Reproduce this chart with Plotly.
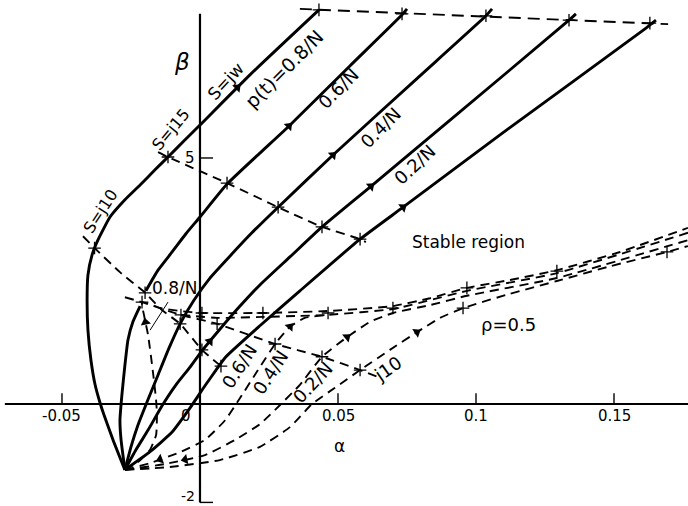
import math
import plotly.graph_objects as go

W, H = 688, 506
A_MIN, A_MAX = -0.07246, 0.17681
B_MIN, B_MAX = -2.073, 8.211

# ---------- rho = 1 loci (solid), p(t) = 0.8/N ... 0.2/N ----------
s1_alpha = [-0.0272, -0.0315, -0.0348, -0.0362, -0.0380, -0.0395, -0.0406, -0.0409, -0.0406,
            -0.0391, -0.0370, -0.0326, -0.0272, -0.0217, -0.0163, -0.0116, -0.0054, 0.0, 0.0181, 0.0431]
s1_beta = [-1.34, -0.73, -0.22, 0.02, 0.39, 0.89, 1.50, 2.11, 2.62,
           3.03, 3.33, 3.80, 4.15, 4.45, 4.76, 5.02, 5.37, 5.67, 6.69, 8.01]

s2_low_alpha = [-0.0272, -0.0286, -0.0290, -0.0283, -0.0272, -0.0261, -0.0243, -0.0217]
s2_low_beta = [-1.34, -0.73, -0.33, 0.18, 0.79, 1.30, 1.67, 1.99]
s2_up_alpha = [-0.0196, -0.0152, -0.0101, -0.0051, 0.0, 0.0098, 0.0217, 0.0319, 0.0543, 0.0732, 0.0750]
s2_up_beta = [2.30, 2.72, 3.09, 3.46, 3.80, 4.47, 5.10, 5.63, 6.87, 7.91, 8.03]

s3_alpha = [-0.0272, -0.0250, -0.0225, -0.0192, -0.0152, -0.0112, -0.0072, -0.0022, 0.0036,
            0.0109, 0.0188, 0.0283, 0.0482, 0.0797, 0.1036, 0.1058]
s3_beta = [-1.34, -0.87, -0.43, 0.04, 0.59, 1.14, 1.63, 2.11, 2.56,
           3.01, 3.48, 4.00, 5.06, 6.67, 7.89, 8.03]

s4_alpha = [-0.0272, -0.0232, -0.0188, -0.0138, -0.0087, -0.0036, 0.0007, 0.0072, 0.0145,
            0.0217, 0.0326, 0.0442, 0.0616, 0.0906, 0.1337, 0.1362]
s4_beta = [-1.34, -0.93, -0.53, -0.04, 0.39, 0.75, 1.08, 1.52, 1.99,
           2.42, 2.99, 3.60, 4.41, 5.77, 7.80, 7.93]

s5_alpha = [-0.0272, -0.0181, -0.0101, -0.0036, 0.0018, 0.0058, 0.0094, 0.0217, 0.0362,
            0.0580, 0.0736, 0.1087, 0.1616, 0.1652]
s5_beta = [-1.34, -0.97, -0.57, -0.08, 0.37, 0.69, 0.96, 1.59, 2.30,
           3.35, 4.00, 5.47, 7.64, 7.80]

# ---------- rho = 0.5 loci (dashed) ----------
da_alpha = [-0.0272, -0.0225, -0.0181, -0.0159, -0.0156, -0.0159, -0.0170, -0.0188, -0.0203, -0.0210,
            -0.0145, -0.0072, 0.0007, 0.0228, 0.0464, 0.0699, 0.0833, 0.0967, 0.1123, 0.1293, 0.1522, 0.1768]
da_beta = [-1.34, -1.18, -0.93, -0.63, -0.22, 0.08, 0.63, 1.40, 1.81, 2.07,
           1.95, 1.89, 1.85, 1.85, 1.89, 1.99, 2.15, 2.36, 2.52, 2.72, 3.09, 3.58]

db_alpha = [-0.0069, 0.0062, 0.0228, 0.0362, 0.0464]
db_beta = [1.81, 1.75, 1.77, 1.79, 1.81]

d2_alpha = [-0.0272, -0.0181, -0.0072, 0.0018, 0.0091, 0.0145, 0.0210, 0.0272, 0.0326, 0.0380,
            0.0464, 0.0699, 0.0967, 0.1293, 0.1768]
d2_beta = [-1.34, -1.20, -0.98, -0.73, -0.33, 0.12, 0.69, 1.22, 1.57, 1.75,
           1.81, 1.93, 2.30, 2.66, 3.48]

d3_alpha = [-0.0272, -0.0127, 0.0018, 0.0127, 0.0217, 0.0290, 0.0362, 0.0442, 0.0533, 0.0616,
            0.0699, 0.0833, 0.0967, 0.1293, 0.1768]
d3_beta = [-1.34, -1.22, -1.04, -0.73, -0.41, -0.02, 0.39, 0.96, 1.36, 1.67,
           1.85, 2.01, 2.20, 2.56, 3.33]

d4_alpha = [-0.0272, -0.0109, 0.0072, 0.0217, 0.0326, 0.0406, 0.0489, 0.0580, 0.0688, 0.0786,
            0.0870, 0.0953, 0.1123, 0.1293, 0.1486, 0.1692, 0.1768]
d4_beta = [-1.34, -1.28, -1.14, -0.87, -0.47, 0.00, 0.33, 0.69, 1.10, 1.46,
           1.75, 1.95, 2.24, 2.50, 2.80, 3.09, 3.21]

# ---------- constant-frequency lines ----------
top_alpha = [0.0362, 0.1696]
top_beta = [8.03, 7.72]

j15_alpha = [-0.0152, -0.0116, 0.0098, 0.0283, 0.0442, 0.0580, 0.0601]
j15_beta = [5.12, 5.02, 4.49, 4.00, 3.60, 3.35, 3.29]

j10_alpha = [-0.0424, -0.0382, -0.0290, -0.0199, -0.0138, -0.0072, 0.0007, 0.0076]
j10_beta = [3.41, 3.17, 2.68, 2.26, 1.91, 1.63, 1.10, 0.77]

j10b_alpha = [-0.0272, -0.0210, -0.0069, 0.0062, 0.0272, 0.0442, 0.0580, 0.0645]
j10b_beta = [2.17, 2.07, 1.81, 1.63, 1.22, 0.96, 0.69, 0.55]

# ---------- marked frequency points (+) ----------
plus_alpha = [-0.0382, -0.0116, 0.0431, -0.0199, 0.0098, 0.0732, -0.0072, 0.0283, 0.1036,
              0.0007, 0.0442, 0.1337, 0.0076, 0.0580, 0.1630,
              -0.0210, -0.0069, 0.0062, 0.0272, 0.0442, 0.0580,
              0.0007, 0.0228, 0.0464, 0.0699, 0.0967, 0.1293, 0.0953, 0.1692]
plus_beta = [3.17, 5.02, 8.01, 2.26, 4.49, 7.93, 1.63, 4.00, 7.89,
             1.10, 3.60, 7.80, 0.77, 3.35, 7.74,
             2.07, 1.81, 1.63, 1.22, 0.96, 0.69,
             1.85, 1.85, 1.85, 1.95, 2.36, 2.70, 1.95, 3.09]

# ---------- axes ----------
x_ticks = [-0.05, 0.05, 0.1, 0.15]
x_tick_text = ["-0.05", "0.05", "0.1", "0.15"]
y_ticks = [5, -2]

curves = {
    "S1": (s1_alpha, s1_beta), "S2": (s2_up_alpha, s2_up_beta), "S3": (s3_alpha, s3_beta),
    "S4": (s4_alpha, s4_beta), "S5": (s5_alpha, s5_beta),
    "DA": (da_alpha, da_beta), "D2": (d2_alpha, d2_beta), "D3": (d3_alpha, d3_beta),
    "D4": (d4_alpha, d4_beta),
}
# direction arrows: (curve, approximate alpha, approximate beta, reversed)
arrows = [("S1", 0.0138, 6.42, False), ("S2", 0.0319, 5.67, False), ("S3", 0.0482, 5.06, False),
          ("S4", 0.0616, 4.45, False), ("S5", 0.0736, 4.00, False),
          ("DA", -0.0199, 1.66, False), ("D2", 0.0326, 1.57, False), ("D3", 0.0533, 1.36, False),
          ("D4", 0.0786, 1.46, False), ("S4", 0.0030, 1.30, False),
          ("D2", -0.0145, -1.12, True), ("D3", -0.0054, -1.13, True)]

kx = W / (A_MAX - A_MIN)
ky = H / (B_MAX - B_MIN)

fig = go.Figure()


def add_line(a, b, width, dash=None, shape="spline"):
    fig.add_trace(go.Scatter(x=a, y=b, mode="lines", hoverinfo="skip", showlegend=False,
                             line=dict(color="black", width=width, dash=dash, shape=shape,
                                       smoothing=0.45)))


# axes
add_line([-0.0707, A_MAX], [0, 0], 1.8, shape="linear")
add_line([0, 0], [-2, 7.93], 2.2, shape="linear")
for t in x_ticks:
    add_line([t, t], [0, 0.22], 1.4, shape="linear")
for t in y_ticks:
    add_line([0, 13 / kx], [t, t], 1.4, shape="linear")

# dashed loci and constant-frequency lines
DASH = "9px,6px"
for a, b in [(da_alpha, da_beta), (db_alpha, db_beta), (d2_alpha, d2_beta),
             (d3_alpha, d3_beta), (d4_alpha, d4_beta), (j10_alpha, j10_beta),
             (j10b_alpha, j10b_beta), (j15_alpha, j15_beta)]:
    add_line(a, b, 1.9, dash=DASH)
add_line(top_alpha, top_beta, 1.9, dash="12px,7px", shape="linear")

# leader from the 0.8/N label
add_line([-0.0116, -0.0181], [2.07, 1.50], 1.0, shape="linear")

# solid loci
for a, b in [(s1_alpha, s1_beta), (s2_low_alpha, s2_low_beta), (s2_up_alpha, s2_up_beta),
             (s3_alpha, s3_beta), (s4_alpha, s4_beta), (s5_alpha, s5_beta)]:
    add_line(a, b, 2.9)

# + markers
fig.add_trace(go.Scatter(x=plus_alpha, y=plus_beta, mode="markers", hoverinfo="skip",
                         showlegend=False,
                         marker=dict(symbol="cross-thin", size=9, color="black",
                                     line=dict(color="black", width=1.3))))

# arrowheads oriented along their curve
ax_list, ay_list, ang_list = [], [], []
for name, pa, pb, rev in arrows:
    ca, cb = curves[name]
    best = None
    for i in range(len(ca) - 1):
        x0, y0 = ca[i] * kx, cb[i] * ky
        x1, y1 = ca[i + 1] * kx, cb[i + 1] * ky
        px, py = pa * kx, pb * ky
        dx, dy = x1 - x0, y1 - y0
        L2 = dx * dx + dy * dy
        t = max(0.0, min(1.0, ((px - x0) * dx + (py - y0) * dy) / L2)) if L2 else 0.0
        qx, qy = x0 + t * dx, y0 + t * dy
        d = (qx - px) ** 2 + (qy - py) ** 2
        if best is None or d < best[0]:
            best = (d, qx, qy, dx, dy)
    _, qx, qy, dx, dy = best
    if rev:
        dx, dy = -dx, -dy
    ax_list.append(qx / kx)
    ay_list.append(qy / ky)
    ang_list.append(math.degrees(math.atan2(dx, dy)))
fig.add_trace(go.Scatter(x=ax_list, y=ay_list, mode="markers", hoverinfo="skip", showlegend=False,
                         marker=dict(symbol="triangle-up", size=9, color="black", angle=ang_list,
                                     line=dict(width=0))))

FONT = "DejaVu Sans"
ann = []


def label(text, x, y, size=17, angle=0, xanchor="center", yanchor="middle", xshift=0):
    ann.append(dict(text=text, x=x, y=y, xref="x", yref="y", showarrow=False,
                    textangle=angle, xanchor=xanchor, yanchor=yanchor, xshift=xshift,
                    font=dict(family=FONT, size=size, color="black")))


for t, s in zip(x_ticks, x_tick_text):
    label(s, t, -0.25, size=15)
label("0", -0.0051, -0.25, size=15)
label("5", 0, 5, size=15, xanchor="right", xshift=-3)
label("-2", 0, B_MIN, size=14, xanchor="right", yanchor="bottom", xshift=-3)
label("α", 0.0504, -0.85, size=17)
label("<i>β</i>", -0.0065, 6.95, size=23)

label("S=jw", 0.0094, 6.56, size=17, angle=-47)
label("p(t)=0.8/N", 0.0305, 6.80, size=19, angle=-45)
label("0.6/N", 0.0500, 6.42, size=18, angle=-45)
label("0.4/N", 0.0656, 5.61, size=18, angle=-45)
label("0.2/N", 0.0779, 4.86, size=18, angle=-43)
label("S=j15", -0.0105, 5.57, size=16, angle=-50)
label("S=j10", -0.0362, 3.92, size=16, angle=-57)
label("0.8/N", -0.0091, 2.36, size=17)
label("Stable region", 0.0971, 3.29, size=17)
label("ρ=0.5", 0.1116, 1.61, size=18)
label("0.6/N", 0.0141, 0.77, size=18, angle=-57)
label("0.4/N", 0.0254, 0.65, size=18, angle=-57)
label("0.2/N", 0.0409, 0.43, size=18, angle=-47)
label("j10", 0.0681, 0.73, size=18, angle=-35)

fig.update_layout(
    width=W, height=H, margin=dict(l=0, r=0, t=0, b=0),
    paper_bgcolor="white", plot_bgcolor="white",
    xaxis=dict(range=[A_MIN, A_MAX], visible=False, fixedrange=True),
    yaxis=dict(range=[B_MIN, B_MAX], visible=False, fixedrange=True),
    annotations=ann, showlegend=False,
)
fig.write_html("out.html")
